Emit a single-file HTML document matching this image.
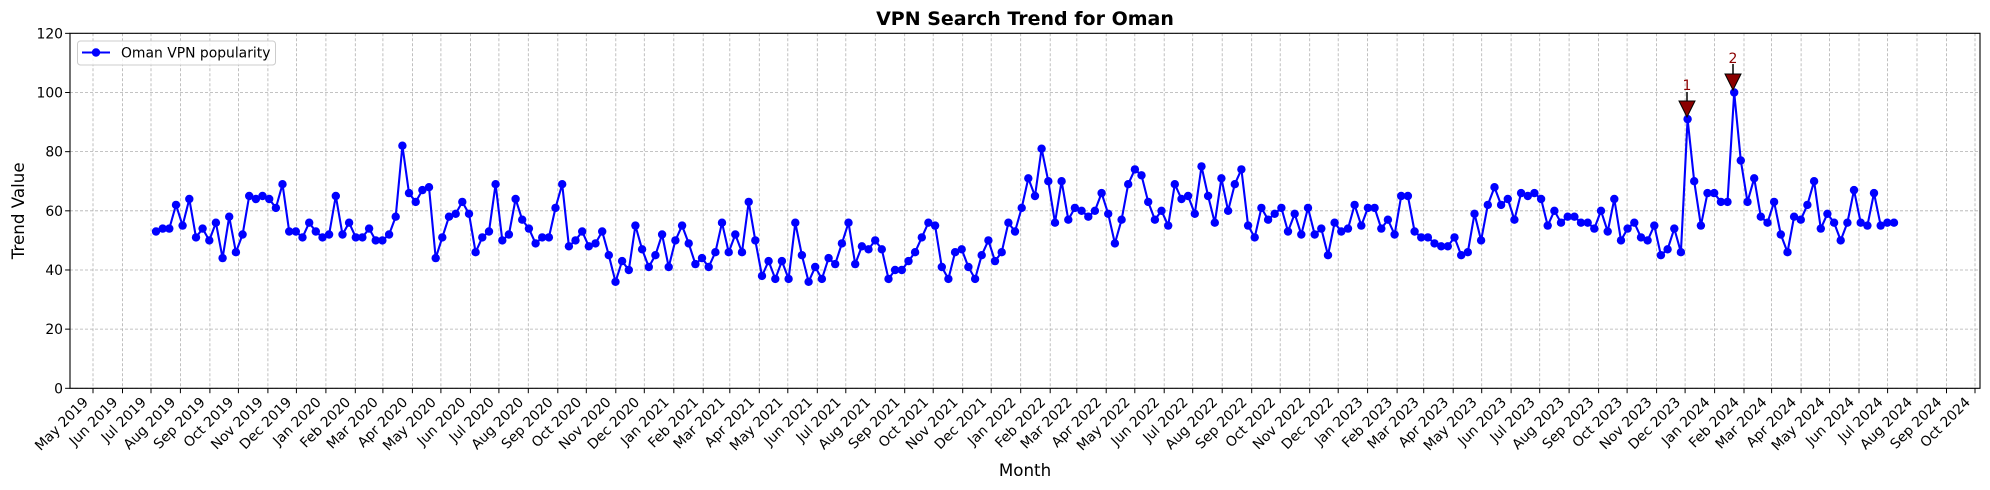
<!DOCTYPE html>
<html><head><meta charset="utf-8"><style>
html,body{margin:0;padding:0;background:#fff;}
svg{display:block;font-family:"DejaVu Sans","Liberation Sans",sans-serif;}
</style></head><body>
<svg id="s" width="1990" height="490" viewBox="0 0 1990 490" xmlns="http://www.w3.org/2000/svg">
<rect width="1990" height="490" fill="#fff"/>
<g id="grid"></g>
<g id="data"></g>
<rect x="70" y="33.3" width="1910" height="355" fill="none" stroke="#000" stroke-width="1.1"/>
<g id="ticks"></g>
<text x="1025" y="25" text-anchor="middle" font-size="19" font-weight="bold">VPN Search Trend for Oman</text>
<text x="1025" y="476" text-anchor="middle" font-size="16.7">Month</text>
<text transform="translate(24,210.8) rotate(-90)" text-anchor="middle" font-size="16.7">Trend Value</text>
<g font-size="13.9" text-anchor="end">
<text x="63" y="38.3">120</text><text x="63" y="97.5">100</text><text x="63" y="156.7">80</text><text x="63" y="215.8">60</text><text x="63" y="275">40</text><text x="63" y="334.1">20</text><text x="63" y="393.3">0</text>
</g>
<g id="xl" font-size="13.9" text-anchor="end">
<text transform="translate(89,403) rotate(-45)">May 2019</text>
<text transform="translate(118.5,403) rotate(-45)">Jun 2019</text>
<text transform="translate(147,403) rotate(-45)">Jul 2019</text>
<text transform="translate(176.4,403) rotate(-45)">Aug 2019</text>
<text transform="translate(205.9,403) rotate(-45)">Sep 2019</text>
<text transform="translate(234.4,403) rotate(-45)">Oct 2019</text>
<text transform="translate(263.9,403) rotate(-45)">Nov 2019</text>
<text transform="translate(292.4,403) rotate(-45)">Dec 2019</text>
<text transform="translate(321.9,403) rotate(-45)">Jan 2020</text>
<text transform="translate(351.3,403) rotate(-45)">Feb 2020</text>
<text transform="translate(378.9,403) rotate(-45)">Mar 2020</text>
<text transform="translate(408.4,403) rotate(-45)">Apr 2020</text>
<text transform="translate(436.9,403) rotate(-45)">May 2020</text>
<text transform="translate(466.4,403) rotate(-45)">Jun 2020</text>
<text transform="translate(494.9,403) rotate(-45)">Jul 2020</text>
<text transform="translate(524.3,403) rotate(-45)">Aug 2020</text>
<text transform="translate(553.8,403) rotate(-45)">Sep 2020</text>
<text transform="translate(582.3,403) rotate(-45)">Oct 2020</text>
<text transform="translate(611.8,403) rotate(-45)">Nov 2020</text>
<text transform="translate(640.3,403) rotate(-45)">Dec 2020</text>
<text transform="translate(669.8,403) rotate(-45)">Jan 2021</text>
<text transform="translate(699.2,403) rotate(-45)">Feb 2021</text>
<text transform="translate(725.8,403) rotate(-45)">Mar 2021</text>
<text transform="translate(755.3,403) rotate(-45)">Apr 2021</text>
<text transform="translate(783.8,403) rotate(-45)">May 2021</text>
<text transform="translate(813.3,403) rotate(-45)">Jun 2021</text>
<text transform="translate(841.8,403) rotate(-45)">Jul 2021</text>
<text transform="translate(871.3,403) rotate(-45)">Aug 2021</text>
<text transform="translate(900.7,403) rotate(-45)">Sep 2021</text>
<text transform="translate(929.2,403) rotate(-45)">Oct 2021</text>
<text transform="translate(958.7,403) rotate(-45)">Nov 2021</text>
<text transform="translate(987.2,403) rotate(-45)">Dec 2021</text>
<text transform="translate(1016.7,403) rotate(-45)">Jan 2022</text>
<text transform="translate(1046.2,403) rotate(-45)">Feb 2022</text>
<text transform="translate(1072.8,403) rotate(-45)">Mar 2022</text>
<text transform="translate(1102.2,403) rotate(-45)">Apr 2022</text>
<text transform="translate(1130.8,403) rotate(-45)">May 2022</text>
<text transform="translate(1160.2,403) rotate(-45)">Jun 2022</text>
<text transform="translate(1188.7,403) rotate(-45)">Jul 2022</text>
<text transform="translate(1218.2,403) rotate(-45)">Aug 2022</text>
<text transform="translate(1247.7,403) rotate(-45)">Sep 2022</text>
<text transform="translate(1276.2,403) rotate(-45)">Oct 2022</text>
<text transform="translate(1305.7,403) rotate(-45)">Nov 2022</text>
<text transform="translate(1334.2,403) rotate(-45)">Dec 2022</text>
<text transform="translate(1363.6,403) rotate(-45)">Jan 2023</text>
<text transform="translate(1393.1,403) rotate(-45)">Feb 2023</text>
<text transform="translate(1419.7,403) rotate(-45)">Mar 2023</text>
<text transform="translate(1449.2,403) rotate(-45)">Apr 2023</text>
<text transform="translate(1477.7,403) rotate(-45)">May 2023</text>
<text transform="translate(1507.1,403) rotate(-45)">Jun 2023</text>
<text transform="translate(1535.7,403) rotate(-45)">Jul 2023</text>
<text transform="translate(1565.1,403) rotate(-45)">Aug 2023</text>
<text transform="translate(1594.6,403) rotate(-45)">Sep 2023</text>
<text transform="translate(1623.1,403) rotate(-45)">Oct 2023</text>
<text transform="translate(1652.6,403) rotate(-45)">Nov 2023</text>
<text transform="translate(1681.1,403) rotate(-45)">Dec 2023</text>
<text transform="translate(1710.6,403) rotate(-45)">Jan 2024</text>
<text transform="translate(1740,403) rotate(-45)">Feb 2024</text>
<text transform="translate(1767.6,403) rotate(-45)">Mar 2024</text>
<text transform="translate(1797.1,403) rotate(-45)">Apr 2024</text>
<text transform="translate(1825.6,403) rotate(-45)">May 2024</text>
<text transform="translate(1855,403) rotate(-45)">Jun 2024</text>
<text transform="translate(1883.6,403) rotate(-45)">Jul 2024</text>
<text transform="translate(1913,403) rotate(-45)">Aug 2024</text>
<text transform="translate(1942.5,403) rotate(-45)">Sep 2024</text>
<text transform="translate(1971,403) rotate(-45)">Oct 2024</text>
</g>
<!-- annotations -->
<line x1="1687" y1="92" x2="1687" y2="101" stroke="#000" stroke-width="1.5"/>
<polygon points="1679,101 1695,101 1687,117" fill="#8b0000" stroke="#000" stroke-width="1"/>
<text x="1687" y="90" text-anchor="middle" font-size="14" fill="#8b0000">1</text>
<line x1="1733" y1="64" x2="1733" y2="74" stroke="#000" stroke-width="1.5"/>
<polygon points="1725,74 1741,74 1733,90" fill="#8b0000" stroke="#000" stroke-width="1"/>
<text x="1733" y="63" text-anchor="middle" font-size="14" fill="#8b0000">2</text>
<!-- legend -->
<rect x="77.5" y="41" width="198" height="24" rx="3" fill="#fff" fill-opacity="0.8" stroke="#ccc" stroke-width="1"/>
<line x1="82" y1="52.5" x2="110" y2="52.5" stroke="#0000ff" stroke-width="2.1"/>
<circle cx="96" cy="52.5" r="4.2" fill="#0000ff"/>
<text x="121" y="57.5" font-size="13.9">Oman VPN popularity</text>
</svg>
<script>
var NS="http://www.w3.org/2000/svg";
function el(p,n,a){var e=document.createElementNS(NS,n);for(var k in a)e.setAttribute(k,a[k]);p.appendChild(e);return e;}
var xs=[93,122.5,151,180.4,209.9,238.4,267.9,296.4,325.9,355.3,382.9,412.4,440.9,470.4,498.9,528.3,557.8,586.3,615.8,644.3,673.8,703.2,729.8,759.3,787.8,817.3,845.8,875.3,904.7,933.2,962.7,991.2,1020.7,1050.2,1076.8,1106.2,1134.8,1164.2,1192.7,1222.2,1251.7,1280.2,1309.7,1338.2,1367.6,1397.1,1423.7,1453.2,1481.7,1511.1,1539.7,1569.1,1598.6,1627.1,1656.6,1685.1,1714.6,1744,1771.6,1801.1,1829.6,1859,1887.6,1917,1946.5,1975];
var g=document.getElementById("grid"),t=document.getElementById("ticks");
function Y(v){return 388.3-v*2.958;}
xs.forEach(function(x){el(g,"line",{x1:x,y1:33.3,x2:x,y2:388.3,stroke:"#b0b0b0","stroke-width":0.8,"stroke-dasharray":"3,2"});el(t,"line",{x1:x,y1:388.3,x2:x,y2:393.2,stroke:"#000","stroke-width":1});});
for(var v=0;v<=120;v+=20){var y=Y(v);el(g,"line",{x1:70,y1:y,x2:1980,y2:y,stroke:"#b0b0b0","stroke-width":0.8,"stroke-dasharray":"3,2"});el(t,"line",{x1:65.1,y1:y,x2:70,y2:y,stroke:"#000","stroke-width":1});}
var d=[53,54,54,62,55,64,51,54,50,56,44,58,46,52,65,64,65,64,61,69,53,53,51,56,53,51,52,65,52,56,51,51,54,50,50,52,58,82,66,63,67,68,44,51,58,59,63,59,46,51,53,69,50,52,64,57,54,49,51,51,61,69,48,50,53,48,49,53,45,36,43,40,55,47,41,45,52,41,50,55,49,42,44,41,46,56,46,52,46,63,50,38,43,37,43,37,56,45,36,41,37,44,42,49,56,42,48,47,50,47,37,40,40,43,46,51,56,55,41,37,46,47,41,37,45,50,43,46,56,53,61,71,65,81,70,56,70,57,61,60,58,60,66,59,49,57,69,74,72,63,57,60,55,69,64,65,59,75,65,56,71,60,69,74,55,51,61,57,59,61,53,59,52,61,52,54,45,56,53,54,62,55,61,61,54,57,52,65,65,53,51,51,49,48,48,51,45,46,59,50,62,68,62,64,57,66,65,66,64,55,60,56,58,58,56,56,54,60,53,64,50,54,56,51,50,55,45,47,54,46,91,70,55,66,66,63,63,100,77,63,71,58,56,63,52,46,58,57,62,70,54,59,56,50,56,67,56,55,66,55,56,56];
var dg=document.getElementById("data"),pts=[],step=(1894-156)/(d.length-1);
d.forEach(function(v,i){pts.push((156+i*step).toFixed(1)+","+Y(v).toFixed(1));});
el(dg,"polyline",{points:pts.join(" "),fill:"none",stroke:"#0000ff","stroke-width":2.1,"stroke-linejoin":"round"});
d.forEach(function(v,i){el(dg,"circle",{cx:(156+i*step).toFixed(1),cy:Y(v).toFixed(1),r:4.2,fill:"#0000ff"});});
</script>
</body></html>
